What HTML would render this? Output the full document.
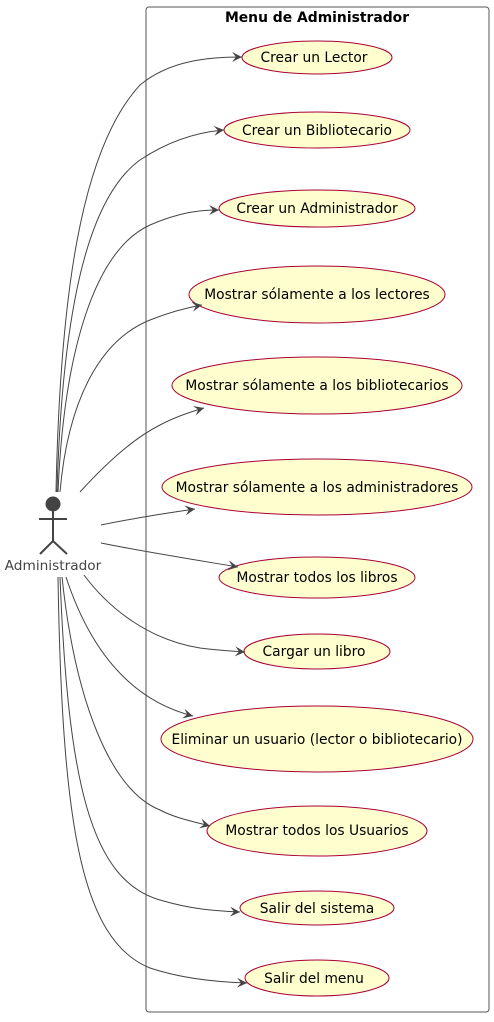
<!DOCTYPE html>
<html><head><style>body{margin:0;background:#fff}svg text{font-family:"DejaVu Sans","Liberation Sans",sans-serif}</style></head><body>
<svg width="494" height="1017" xmlns="http://www.w3.org/2000/svg">
<defs><marker id="a" markerWidth="12" markerHeight="10" refX="10" refY="5" orient="auto" markerUnits="userSpaceOnUse"><path d="M0,0 L10,5 L0,10 L4,5 Z" fill="#444"/></marker></defs>
<rect x="146" y="7" width="343" height="1005" rx="3" fill="none" stroke="#555" stroke-width="1"/>
<text x="317" y="22" text-anchor="middle" font-size="13.9" font-weight="bold">Menu de Administrador</text>
<g fill="#fefece" stroke="#a80036" stroke-width="1">
<ellipse cx="317" cy="57.5" rx="75" ry="16.5"/>
<ellipse cx="317" cy="130" rx="93" ry="18"/>
<ellipse cx="317" cy="208.5" rx="98" ry="18.5"/>
<ellipse cx="317" cy="294.5" rx="128" ry="28.5"/>
<ellipse cx="317" cy="385.5" rx="145" ry="28.5"/>
<ellipse cx="317" cy="487" rx="155" ry="28"/>
<ellipse cx="317" cy="577.5" rx="98" ry="20.5"/>
<ellipse cx="317" cy="651.5" rx="73" ry="17.5"/>
<ellipse cx="317" cy="739" rx="156" ry="33"/>
<ellipse cx="317" cy="831" rx="110" ry="25"/>
<ellipse cx="317" cy="908" rx="77" ry="17"/>
<ellipse cx="317" cy="978" rx="72" ry="18"/>
</g>
<g font-size="13.8" text-anchor="middle" fill="#000">
<text x="314" y="62">Crear un Lector</text>
<text x="317" y="135">Crear un Bibliotecario</text>
<text x="317" y="213">Crear un Administrador</text>
<text x="317" y="299">Mostrar sólamente a los lectores</text>
<text x="317" y="390">Mostrar sólamente a los bibliotecarios</text>
<text x="317" y="492">Mostrar sólamente a los administradores</text>
<text x="317" y="582">Mostrar todos los libros</text>
<text x="314" y="656">Cargar un libro</text>
<text x="317" y="744">Eliminar un usuario (lector o bibliotecario)</text>
<text x="317" y="835">Mostrar todos los Usuarios</text>
<text x="317" y="913">Salir del sistema</text>
<text x="314" y="983">Salir del menu</text>
</g>
<g fill="none" stroke="#444" stroke-width="1" marker-end="url(#a)">
<path d="M56,492 C60,300 80,150 140,85 C170,60 210,57 242,57"/>
<path d="M57,492 C62,320 85,200 140,160 C170,140 200,132 224,130"/>
<path d="M58,492 C64,350 95,250 150,225 C180,212 200,210 219,210"/>
<path d="M60,492 C68,400 100,340 150,320 C170,312 185,308 202,305"/>
<path d="M80,492 C100,470 130,440 160,425 C175,417 190,412 204,408"/>
<path d="M101,525 C130,519 160,514 195,509"/>
<path d="M101,543 C140,551 190,559 238,567"/>
<path d="M84,575 C110,610 150,640 200,648 C215,650 230,651 245,652"/>
<path d="M66,577 C90,650 130,700 193,716"/>
<path d="M62,577 C75,700 110,790 160,810 C175,818 195,822 210,826"/>
<path d="M60,577 C68,780 90,880 160,900 C190,909 215,911 240,912"/>
<path d="M58,577 C62,820 80,940 150,968 C180,978 215,982 247,983"/>
</g>
<g stroke="#444" stroke-width="2" fill="none">
<circle cx="53" cy="504" r="7" fill="#444" stroke-width="1"/>
<line x1="53" y1="511" x2="53" y2="541"/>
<line x1="39" y1="519" x2="67" y2="519"/>
<path d="M40,554 L53,541 L67,554"/>
</g>
<text x="53" y="570" text-anchor="middle" font-size="13.7" fill="#444">Administrador</text>
</svg>
</body></html>
